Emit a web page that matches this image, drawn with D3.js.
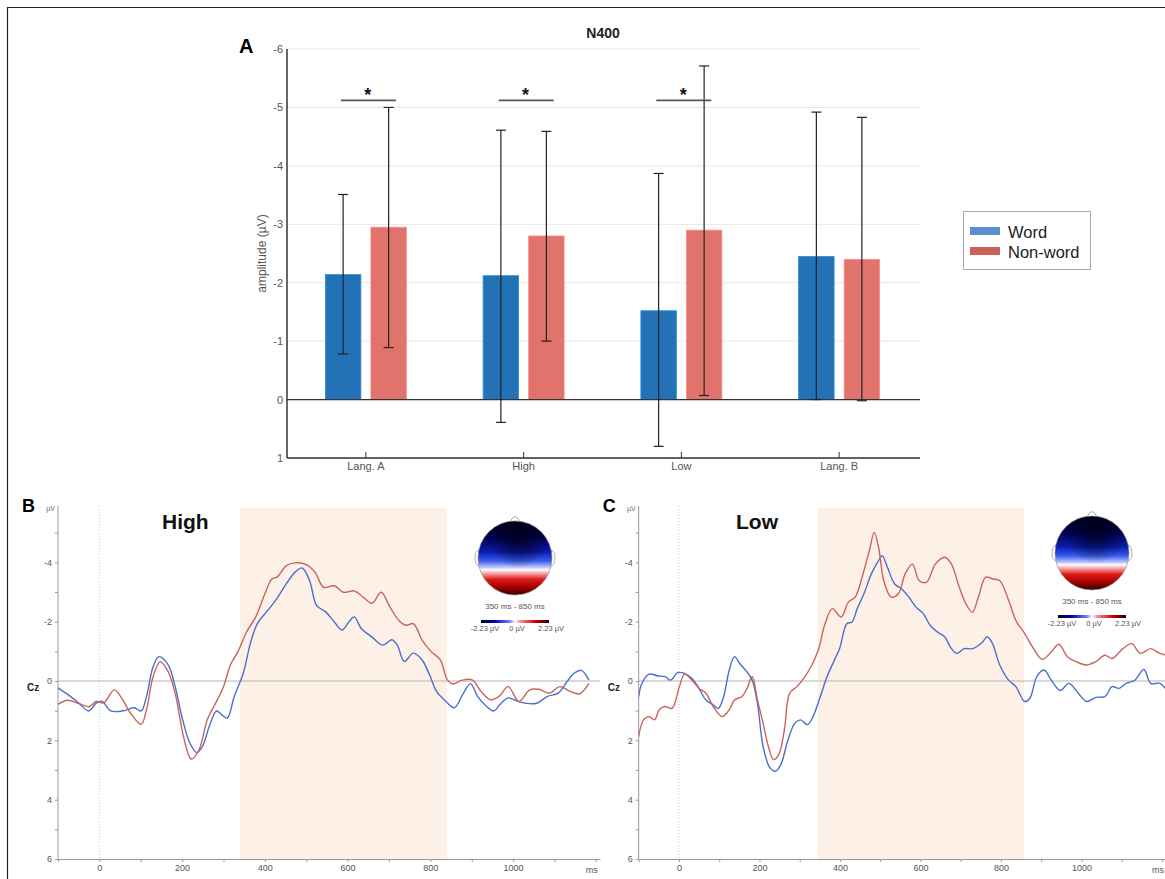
<html>
<head>
<style>
  body { margin: 0; background: #fff; }
  text { font-family: "Liberation Sans", Arial, sans-serif; }
</style>
</head>
<body>
<script src="https://d3js.org/d3.v7.min.js"></script>
<script>

    // ---- panel A data (N400 mean amplitude, µV) ----
    var categories = ["Lang. A", "High", "Low", "Lang. B"];
    var seriesNames = ["Word", "Non-word"];
    var wordMean = [-2.14, -2.12, -1.52, -2.45];
    var nonwordMean = [-2.95, -2.80, -2.90, -2.40];
    var wordErrTop = [-3.51, -4.61, -3.87, -4.92];
    var wordErrBottom = [-0.78, 0.39, 0.80, 0.0];
    var nonwordErrTop = [-5.0, -4.59, -5.71, -4.83];
    var nonwordErrBottom = [-0.89, -1.0, -0.07, 0.02];
    var sigCategories = ["Lang. A", "High", "Low"];
    var sigLevel = -5.12;
    var ampTicks = [-6, -5, -4, -3, -2, -1, 0, 1];

    // ---- panel B / C data: ERP at Cz, [ms, µV] ----
    var highWord = [[-100,0.23],[-76,0.46],[-50,0.74],[-26,1.01],[-7,0.74],[6,0.68],[28,1.01],[62,0.99],[84,0.9],[101,1.01],[114,0.51],[130,-0.49],[144,-0.82],[166,-0.55],[183,0.18],[201,1.29],[218,2.07],[235,2.41],[248,2.24],[266,1.52],[283,1.01],[296,1.14],[309,1.25],[326,0.52],[348,-0.27],[365,-1.27],[382,-1.94],[404,-2.33],[426,-2.72],[452,-3.28],[473,-3.67],[490,-3.81],[508,-3.39],[525,-2.55],[547,-2.33],[568,-1.99],[586,-1.72],[603,-1.99],[616,-2.16],[633,-1.77],[659,-1.48],[685,-1.21],[707,-1.39],[720,-1.21],[737,-0.66],[759,-0.94],[780,-0.71],[798,-0.21],[815,0.35],[837,0.68],[858,0.9],[880,0.41],[897,0.09],[914,0.52],[936,0.86],[953,1.01],[971,0.75],[988,0.57],[1010,0.68],[1031,0.75],[1057,0.75],[1083,0.52],[1109,0.41],[1131,0.01],[1148,-0.27],[1165,-0.36],[1183,-0.04]];
    var highNonword = [[-100,0.79],[-76,0.65],[-50,0.76],[-24,0.86],[-7,0.68],[10,0.74],[36,0.3],[54,0.58],[75,1.08],[101,1.46],[114,0.96],[130,-0.15],[147,-0.65],[166,-0.32],[183,0.41],[205,1.97],[222,2.63],[240,2.35],[261,1.3],[279,0.8],[300,0.19],[317,-0.55],[335,-0.99],[356,-1.66],[378,-2.16],[400,-2.94],[417,-3.44],[430,-3.51],[452,-3.89],[473,-3.98],[499,-3.93],[521,-3.67],[542,-3.16],[568,-3.21],[590,-2.99],[616,-3.04],[638,-2.82],[659,-2.62],[681,-2.99],[702,-2.5],[724,-2.04],[741,-1.88],[759,-1.93],[780,-1.38],[802,-0.99],[824,-0.71],[841,-0.04],[854,0.1],[875,-0.02],[901,-0.04],[923,0.36],[945,0.63],[966,0.52],[988,0.19],[1014,0.69],[1040,0.3],[1062,0.28],[1087,0.41],[1113,0.19],[1139,0.36],[1161,0.43],[1183,0.08]];
    var lowWord = [[-100,0.53],[-92,0.08],[-74,-0.23],[-52,-0.17],[-34,-0.15],[-21,-0.03],[-3,-0.28],[14,-0.26],[32,-0.09],[50,0.25],[67,0.64],[85,0.8],[98,0.92],[111,0.53],[125,-0.37],[138,-0.82],[151,-0.59],[169,-0.31],[182,-0.03],[195,0.75],[209,2.2],[226,2.93],[240,3.04],[253,2.82],[271,1.98],[288,1.42],[302,1.31],[319,1.47],[333,1.2],[351,0.53],[368,-0.15],[386,-0.7],[399,-1.09],[417,-1.93],[430,-1.99],[443,-2.44],[461,-2.99],[478,-3.61],[496,-4.06],[505,-4.22],[518,-3.83],[536,-3.27],[553,-3.11],[571,-2.83],[589,-2.49],[607,-2.27],[624,-1.88],[642,-1.65],[660,-1.49],[677,-1.09],[691,-0.93],[708,-1.09],[730,-1.09],[752,-1.28],[766,-1.49],[779,-1.26],[797,-0.54],[819,-0.03],[837,0.19],[859,0.69],[872,0.58],[889,-0.15],[907,-0.37],[925,-0.03],[947,0.32],[969,0.08],[992,0.41],[1013,0.69],[1036,0.55],[1058,0.53],[1076,0.19],[1093,0.25],[1111,0.08],[1133,-0.03],[1155,-0.39],[1172,0.08],[1195,0.08],[1208,0.25]];
    var lowNonword = [[-100,1.87],[-88,1.31],[-74,1.2],[-61,1.31],[-48,0.95],[-34,0.86],[-17,0.92],[1,0.19],[14,-0.23],[32,-0.03],[50,0.25],[67,0.41],[85,0.86],[107,1.2],[125,0.97],[138,0.64],[156,0.53],[169,0.25],[182,-0.15],[195,0.64],[209,1.42],[222,2.2],[235,2.65],[248,2.48],[262,1.64],[275,0.41],[293,0.19],[310,-0.09],[328,-0.48],[346,-1.04],[363,-1.93],[381,-2.44],[403,-2.16],[421,-2.66],[438,-2.83],[456,-3.55],[474,-4.45],[485,-5.01],[496,-4.5],[509,-3.38],[527,-2.83],[545,-2.94],[562,-3.61],[580,-3.94],[597,-3.38],[615,-3.33],[637,-3.94],[660,-4.17],[677,-3.94],[695,-3.22],[713,-2.6],[729,-2.32],[744,-2.83],[762,-3.5],[779,-3.44],[797,-3.38],[819,-2.72],[837,-2.04],[859,-1.6],[881,-1.09],[903,-0.73],[925,-0.98],[944,-1.24],[965,-0.82],[987,-0.65],[1013,-0.54],[1036,-0.65],[1058,-0.87],[1076,-0.76],[1103,-1.09],[1125,-1.26],[1146,-0.93],[1172,-1.09],[1195,-0.93],[1212,-0.87]];
    var highShade = [340, 840];
    var lowShade = [345, 858];
    var erpTimeLabels = [0, 200, 400, 600, 800, 1000];
    var erpAmpLabels = [-4, -2, 0, 2, 4, 6];
    var topoWindow = "350 ms - 850 ms";
    var topoScaleLabels = ["-2.23 µV", "0 µV", "2.23 µV"];

    var width = 1165, height = 879;
    var wordColor = "#2372b6", nonwordColor = "#e0736b";

    var svg = d3.select("body").append("svg").attr("width", width).attr("height", height);
    var defs = svg.append("defs");

    // outer frame (left + top)
    svg.append("path").attr("d", "M7.5,879V7.5H1165").attr("fill", "none").attr("stroke", "#222").attr("stroke-width", 1.2);

    // ================= panel A =================
    var y = d3.scaleLinear().domain([-6, 1]).range([49, 458]);
    var x0 = d3.scaleBand().domain(categories).range([287, 918]);
    var x1 = d3.scaleBand().domain(seriesNames).range([-40.5, 40.5]).paddingInner(0.22);

    var gA = svg.append("g");

    gA.selectAll(".grid").data(ampTicks).enter().append("line")
        .attr("x1", 287).attr("x2", 920)
        .attr("y1", function (d) { return y(d); }).attr("y2", function (d) { return y(d); })
        .attr("stroke", "#e6e6e6");

    gA.selectAll(".ylab").data(ampTicks).enter().append("text")
        .attr("x", 283).attr("y", function (d) { return y(d) + 4; })
        .attr("text-anchor", "end").attr("font-size", 11).attr("fill", "#555")
        .text(function (d) { return String(d); });

    var rows = categories.map(function (c, i) {
        return [
            {cat: c, s: "Word", v: wordMean[i], top: wordErrTop[i], bot: wordErrBottom[i], color: wordColor},
            {cat: c, s: "Non-word", v: nonwordMean[i], top: nonwordErrTop[i], bot: nonwordErrBottom[i], color: nonwordColor}
        ];
    });
    var bars = [].concat.apply([], rows);
    function cx(d) { return x0(d.cat) + x0.bandwidth() / 2 + x1(d.s) + x1.bandwidth() / 2; }

    gA.selectAll(".bar").data(bars).enter().append("rect")
        .attr("x", function (d) { return cx(d) - x1.bandwidth() / 2; })
        .attr("width", x1.bandwidth())
        .attr("y", function (d) { return y(d.v); })
        .attr("height", function (d) { return y(0) - y(d.v); })
        .attr("fill", function (d) { return d.color; })
        .attr("stroke", function (d) { return d3.color(d.color).brighter(0.6); })
        .attr("stroke-width", 0.8);

    // zero line + axes
    gA.append("line").attr("x1", 287).attr("x2", 920).attr("y1", y(0)).attr("y2", y(0)).attr("stroke", "#333").attr("stroke-width", 1.2);
    gA.append("line").attr("x1", 287).attr("x2", 287).attr("y1", y(-6)).attr("y2", y(1)).attr("stroke", "#333").attr("stroke-width", 1.5);
    gA.append("line").attr("x1", 287).attr("x2", 920).attr("y1", y(1)).attr("y2", y(1)).attr("stroke", "#333").attr("stroke-width", 1.5);

    gA.selectAll(".xt").data(categories).enter().append("line")
        .attr("x1", function (d) { return x0(d) + x0.bandwidth() / 2; })
        .attr("x2", function (d) { return x0(d) + x0.bandwidth() / 2; })
        .attr("y1", y(1) - 6).attr("y2", y(1)).attr("stroke", "#333");
    gA.selectAll(".xlab").data(categories).enter().append("text")
        .attr("x", function (d) { return x0(d) + x0.bandwidth() / 2; })
        .attr("y", y(1) + 12).attr("text-anchor", "middle").attr("font-size", 11).attr("fill", "#555")
        .text(function (d) { return d; });

    // error bars
    var err = gA.selectAll(".err").data(bars).enter().append("g").attr("stroke", "#222").attr("stroke-width", 1.2);
    err.append("line")
        .attr("x1", cx).attr("x2", cx)
        .attr("y1", function (d) { return y(d.top); }).attr("y2", function (d) { return y(d.bot); });
    err.append("line")
        .attr("x1", function (d) { return cx(d) - 5; }).attr("x2", function (d) { return cx(d) + 5; })
        .attr("y1", function (d) { return y(d.top); }).attr("y2", function (d) { return y(d.top); });
    err.append("line")
        .attr("x1", function (d) { return cx(d) - 5; }).attr("x2", function (d) { return cx(d) + 5; })
        .attr("y1", function (d) { return y(d.bot); }).attr("y2", function (d) { return y(d.bot); });

    // significance markers
    var sig = gA.selectAll(".sig").data(sigCategories).enter().append("g");
    sig.append("line")
        .attr("x1", function (d) { return x0(d) + x0.bandwidth() / 2 - 25; })
        .attr("x2", function (d) { return x0(d) + x0.bandwidth() / 2 + 30; })
        .attr("y1", y(sigLevel)).attr("y2", y(sigLevel))
        .attr("stroke", "#555").attr("stroke-width", 1.8);
    sig.append("text")
        .attr("x", function (d) { return x0(d) + x0.bandwidth() / 2 + 2; })
        .attr("y", y(sigLevel) + 1).attr("text-anchor", "middle")
        .attr("font-size", 18).attr("font-weight", "bold").attr("fill", "#111")
        .text("*");

    gA.append("text").attr("x", 603).attr("y", 38).attr("text-anchor", "middle")
        .attr("font-size", 14).attr("font-weight", "bold").attr("fill", "#222").text("N400");
    gA.append("text").attr("transform", "translate(266," + ((y(-6) + y(1)) / 2) + ") rotate(-90)")
        .attr("text-anchor", "middle").attr("font-size", 12).attr("fill", "#555").text("amplitude (µV)");
    svg.append("text").attr("x", 239).attr("y", 53).attr("font-size", 20).attr("font-weight", "bold").text("A");

    // legend
    var leg = svg.append("g");
    leg.append("rect").attr("x", 963.5).attr("y", 211.5).attr("width", 127).attr("height", 58)
        .attr("fill", "#fff").attr("stroke", "#aaa");
    var legColors = ["#5a8fd0", "#cd605b"];
    seriesNames.forEach(function (s, i) {
        leg.append("rect").attr("x", 970).attr("y", 227 + i * 20).attr("width", 30).attr("height", 8).attr("fill", legColors[i]);
        leg.append("text").attr("x", 1008).attr("y", 238 + i * 20).attr("font-size", 16.5).attr("fill", "#222").text(s);
    });

    // ================= topography gradients =================
    var tg = defs.append("linearGradient").attr("id", "topoGrad").attr("x1", 0.5).attr("y1", 0).attr("x2", 0.5).attr("y2", 1);
    [[0, "#00001e"], [0.22, "#000050"], [0.42, "#0b1cb0"], [0.54, "#3b5cf0"], [0.63, "#c5ccfa"], [0.66, "#ffffff"], [0.71, "#f4a0a0"], [0.79, "#e01818"], [0.9, "#a00000"], [1, "#300000"]]
        .forEach(function (s) { tg.append("stop").attr("offset", s[0]).attr("stop-color", s[1]); });
    var rg = defs.append("radialGradient").attr("id", "topoDark").attr("cx", 0.55).attr("cy", 0.22).attr("r", 0.42);
    rg.append("stop").attr("offset", 0).attr("stop-color", "#000010").attr("stop-opacity", 0.75);
    rg.append("stop").attr("offset", 1).attr("stop-color", "#000010").attr("stop-opacity", 0);
    var cg = defs.append("linearGradient").attr("id", "cbarGrad");
    [[0, "#000020"], [0.2, "#0000b0"], [0.42, "#6f80f8"], [0.5, "#ffffff"], [0.58, "#ff8a8a"], [0.8, "#d00000"], [1, "#200000"]]
        .forEach(function (s) { cg.append("stop").attr("offset", s[0]).attr("stop-color", s[1]); });

    function drawTopo(cxp, cyp, r, textY) {
        var g = svg.append("g");
        g.append("path").attr("d", "M" + (cxp - 5) + "," + (cyp - r + 1) + "Q" + cxp + "," + (cyp - r - 10) + " " + (cxp + 5) + "," + (cyp - r + 1))
            .attr("fill", "none").attr("stroke", "#999").attr("stroke-width", 0.8);
        [-1, 1].forEach(function (s) {
            g.append("path").attr("d", "M" + (cxp + s * (r - 1)) + "," + (cyp - 8) + "q" + (s * 4) + ",1 " + (s * 4) + ",8 q0,7 " + (-s * 4) + ",8")
                .attr("fill", "none").attr("stroke", "#999").attr("stroke-width", 0.8);
        });
        g.append("circle").attr("cx", cxp).attr("cy", cyp).attr("r", r).attr("fill", "url(#topoGrad)");
        g.append("circle").attr("cx", cxp).attr("cy", cyp).attr("r", r).attr("fill", "url(#topoDark)").attr("stroke", "#888").attr("stroke-width", 0.6);
        g.append("text").attr("x", cxp).attr("y", textY).attr("text-anchor", "middle").attr("font-size", 8).attr("fill", "#555").text(topoWindow);
        g.append("rect").attr("x", cxp - 34).attr("y", textY + 11).attr("width", 68).attr("height", 3).attr("fill", "url(#cbarGrad)");
        var offs = [-30, 2, 36];
        topoScaleLabels.forEach(function (t, i) {
            g.append("text").attr("x", cxp + offs[i]).attr("y", textY + 22).attr("text-anchor", "middle")
                .attr("font-size", 7.5).attr("fill", "#555").text(t);
        });
    }

    // ================= ERP panels =================
    function drawErp(cfg) {
        var x = d3.scaleLinear().domain([-100, 1210]).range([cfg.left, cfg.right]);
        var yy = d3.scaleLinear().domain([-6, 6]).range([503, 859]);
        var g = svg.append("g");
        var clipId = "clip" + cfg.letter;
        defs.append("clipPath").attr("id", clipId).append("rect")
            .attr("x", cfg.left).attr("y", 500).attr("width", cfg.right - cfg.left).attr("height", 360);

        g.append("rect").attr("x", x(cfg.shade[0])).attr("y", 508)
            .attr("width", x(cfg.shade[1]) - x(cfg.shade[0])).attr("height", yy(6) - 508)
            .attr("fill", "#fdf1e7");
        g.append("line").attr("x1", cfg.left).attr("x2", cfg.right).attr("y1", yy(0)).attr("y2", yy(0))
            .attr("stroke", "#b5b5b5").attr("stroke-width", 1);
        g.append("line").attr("x1", x(0)).attr("x2", x(0)).attr("y1", 506).attr("y2", yy(6))
            .attr("stroke", "#c8c8c8").attr("stroke-dasharray", "1,2");

        var ya = g.append("g").attr("transform", "translate(" + cfg.left + ",0)")
            .call(d3.axisLeft(yy).tickValues(d3.range(-5, 7)).tickSize(3).tickSizeOuter(0)
                .tickFormat(function (d) { return erpAmpLabels.indexOf(d) >= 0 ? String(d) : ""; }));
        var xa = g.append("g").attr("transform", "translate(0," + yy(6) + ")")
            .call(d3.axisBottom(x).tickValues(d3.range(-100, 1201, 100)).tickSize(3).tickSizeOuter(0)
                .tickFormat(function (d) { return erpTimeLabels.indexOf(d) >= 0 ? String(d) : ""; }));
        [ya, xa].forEach(function (a) {
            a.select(".domain").attr("stroke", "#999");
            a.selectAll(".tick line").attr("stroke", "#999");
            a.selectAll("text").attr("font-size", 9).attr("fill", "#555").attr("font-family", "Liberation Sans, Arial, sans-serif");
        });
        ya.select(".domain").attr("d", "M0,506V" + yy(6));
        g.append("text").attr("x", x(1190)).attr("y", yy(6) + 14).attr("text-anchor", "middle")
            .attr("font-size", 9).attr("fill", "#555").text("ms");
        g.append("text").attr("x", cfg.left - 3).attr("y", 511).attr("text-anchor", "end")
            .attr("font-size", 7).attr("fill", "#666").text("µV");
        g.append("text").attr("x", cfg.left - 31).attr("y", yy(0) + 10)
            .attr("font-size", 10).attr("font-weight", "bold").attr("fill", "#222").text("Cz");

        var line = d3.line().x(function (d) { return x(d[0]); }).y(function (d) { return yy(d[1]); })
            .curve(d3.curveCatmullRom.alpha(0.5));
        var lg = g.append("g").attr("clip-path", "url(#" + clipId + ")");
        lg.append("path").datum(cfg.word).attr("d", line).attr("fill", "none").attr("stroke", "#4b6fcc").attr("stroke-width", 1.4);
        lg.append("path").datum(cfg.nonword).attr("d", line).attr("fill", "none").attr("stroke", "#c9645c").attr("stroke-width", 1.4);

        svg.append("text").attr("x", cfg.left - 36).attr("y", 512).attr("font-size", 18).attr("font-weight", "bold").text(cfg.letter);
        svg.append("text").attr("x", cfg.titleX).attr("y", 529).attr("font-family", "Open Sans, sans-serif")
            .attr("font-size", 21).attr("font-weight", "bold").attr("fill", "#111").text(cfg.title);
    }

    drawErp({letter: "B", title: "High", titleX: 162, left: 58, right: 600, shade: highShade, word: highWord, nonword: highNonword});
    drawErp({letter: "C", title: "Low", titleX: 736, left: 638.7, right: 1166, shade: lowShade, word: lowWord, nonword: lowNonword});

    drawTopo(515, 558, 37, 609);
    drawTopo(1092, 553, 37, 604);

</script>
</body>
</html>
